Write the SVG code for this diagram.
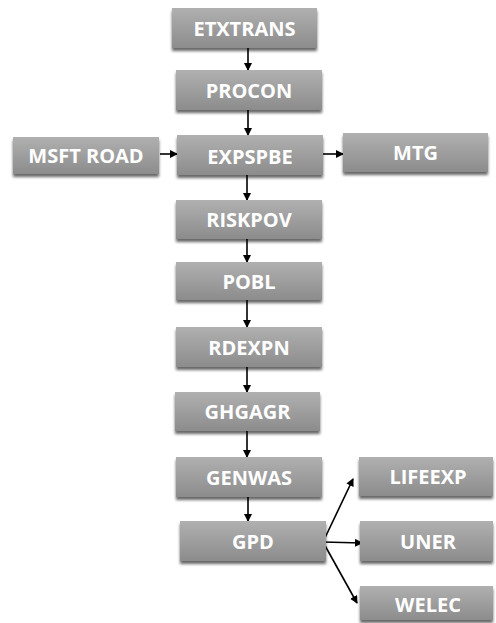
<svg xmlns="http://www.w3.org/2000/svg" width="496" height="623" viewBox="0 0 496 623">
<defs>
<linearGradient id="g" x1="0" y1="0" x2="0" y2="1">
<stop offset="0" stop-color="#b0b0b0"/>
<stop offset="1" stop-color="#8c8c8c"/>
</linearGradient>
<filter id="sh" x="-10%" y="-20%" width="120%" height="160%">
<feGaussianBlur in="SourceAlpha" stdDeviation="1.5"/>
<feOffset dx="0" dy="3" result="b"/>
<feComponentTransfer><feFuncA type="linear" slope="0.6"/></feComponentTransfer>
<feMerge><feMergeNode/><feMergeNode in="SourceGraphic"/></feMerge>
</filter>
<marker id="ah" markerWidth="8" markerHeight="8" refX="7" refY="4" orient="auto" markerUnits="userSpaceOnUse">
<path d="M0,0 L8,4 L0,8 Z" fill="#000"/>
</marker>
</defs>
<style>
.box{fill:url(#g);filter:url(#sh);}
.t{font-family:"Open Sans","Liberation Sans",sans-serif;font-weight:bold;font-size:20px;fill:#fff;text-anchor:middle;dominant-baseline:central;}
.c{stroke:#000;stroke-width:1.6;fill:none;marker-end:url(#ah);}
</style>
<g id="connectors">
<line class="c" x1="248" y1="48" x2="248" y2="70"/>
<line class="c" x1="248" y1="110" x2="248" y2="135"/>
<line class="c" x1="160" y1="154" x2="177" y2="154"/>
<line class="c" x1="323" y1="154" x2="343" y2="154"/>
<line class="c" x1="247" y1="175" x2="247" y2="200"/>
<line class="c" x1="247" y1="239" x2="247" y2="262"/>
<line class="c" x1="247" y1="300" x2="247" y2="327"/>
<line class="c" x1="247" y1="367" x2="247" y2="392"/>
<line class="c" x1="247" y1="431" x2="247" y2="457"/>
<line class="c" x1="248" y1="497" x2="248" y2="521"/>
<line class="c" x1="323" y1="542" x2="353" y2="479"/>
<line class="c" x1="323" y1="542" x2="362" y2="543"/>
<line class="c" x1="323" y1="542" x2="357" y2="603"/>
</g>
<g id="ETXTRANS"><rect class="box" x="172" y="8" width="145" height="40"/><text class="t" x="244.5" y="28">ETXTRANS</text></g>
<g id="PROCON"><rect class="box" x="176" y="70" width="146" height="40"/><text class="t" x="249" y="90">PROCON</text></g>
<g id="MSFTROAD"><rect class="box" x="13" y="137" width="146" height="37"/><text class="t" x="86" y="155.5">MSFT ROAD</text></g>
<g id="EXPSPBE"><rect class="box" x="177" y="135" width="146" height="40"/><text class="t" x="250" y="156">EXPSPBE</text></g>
<g id="MTG"><rect class="box" x="343" y="133" width="145" height="39"/><text class="t" x="415.5" y="152">MTG</text></g>
<g id="RISKPOV"><rect class="box" x="176" y="200" width="146" height="39"/><text class="t" x="249" y="219.5">RISKPOV</text></g>
<g id="POBL"><rect class="box" x="176" y="262" width="146" height="38"/><text class="t" x="249" y="281">POBL</text></g>
<g id="RDEXPN"><rect class="box" x="176" y="327" width="146" height="40"/><text class="t" x="249" y="347">RDEXPN</text></g>
<g id="GHGAGR"><rect class="box" x="175" y="392" width="145" height="39"/><text class="t" x="247.5" y="411.5">GHGAGR</text></g>
<g id="GENWAS"><rect class="box" x="176" y="457" width="146" height="40"/><text class="t" x="249" y="477">GENWAS</text></g>
<g id="GPD"><rect class="box" x="180" y="521" width="146" height="40"/><text class="t" x="253" y="541">GPD</text></g>
<g id="LIFEEXP"><rect class="box" x="359" y="457" width="134" height="39"/><text class="t" x="428" y="476.5">LIFEEXP</text></g>
<g id="UNER"><rect class="box" x="360" y="521" width="133" height="40"/><text class="t" x="428" y="541">UNER</text></g>
<g id="WELEC"><rect class="box" x="360" y="586" width="133" height="34"/><text class="t" x="428" y="604">WELEC</text></g>
</svg>
